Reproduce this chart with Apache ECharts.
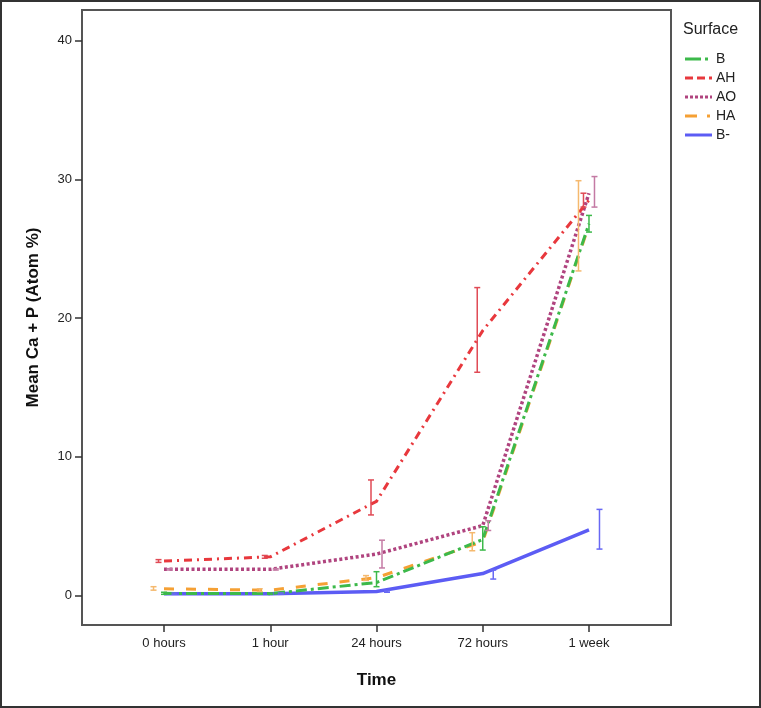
<!DOCTYPE html>
<html><head><meta charset="utf-8">
<script src="https://cdn.jsdelivr.net/npm/echarts@6/dist/echarts.min.js"></script>
<style>html,body{margin:0;padding:0;background:#fff}#c{width:761px;height:708px}</style>
</head><body><div id="c"></div>
<script>
const categories = ['0 hours', '1 hour', '24 hours', '72 hours', '1 week'];
const yTicks = [0, 10, 20, 30, 40];
const seriesNames = ['B', 'AH', 'AO', 'HA', 'B-'];
const valB  = [0.17, 0.15, 0.95, 4.05, 26.8];
const valAH = [2.5, 2.8, 6.8, 19.1, 28.5];
const valAO = [1.9, 1.9, 3.0, 5.05, 29.0];
const valHA = [0.5, 0.4, 1.3, 3.9, 26.7];
const valBm = [0.15, 0.15, 0.3, 1.6, 4.75];
// error bar [low, high]
const errB  = [[0.1, 0.25], [0.1, 0.2], [0.65, 1.73], [3.29, 4.97], [26.2, 27.4]];
const errAH = [[2.4, 2.6], [2.7, 2.9], [5.82, 8.34], [16.1, 22.2], [28.0, 29.0]];
const errAO = [[1.85, 1.95], [1.85, 1.95], [2.0, 4.0], [4.7, 5.4], [28.0, 30.2]];
const errHA = [[0.4, 0.65], [0.3, 0.5], [1.1, 1.45], [3.24, 4.54], [23.4, 29.9]];
const errBm = [[0.1, 0.2], [0.1, 0.2], [0.25, 0.35], [1.2, 1.85], [3.36, 6.22]];

const vals = [valB, valAH, valAO, valHA, valBm];
const errs = [errB, errAH, errAO, errHA, errBm];
const colors = ['#3cb94a', '#e8383d', '#b0447f', '#f5a034', '#5c5cf4'];
const barColors = ['#3cb94a', '#e04a55', '#c47aa4', '#f5b96e', '#6868f4'];
const dashes = [[11, 4, 3, 4], [8, 5, 2, 5], [3, 2.5], [10, 12], 'solid'];
const legendDashes = [[16, 4, 3, 4], [8, 4], [3, 2], [12, 10, 3, 10], 'solid'];
const widths = [3, 3, 3.5, 3, 3.5];
const offsets = [0, -5.5, 5.5, -10.5, 10.5];

const series = [];
seriesNames.forEach((n, i) => {
  series.push({
    name: n, type: 'line', symbol: 'none', z: 3 + (4 - i),
    data: vals[i].map((v, k) => [k, v]),
    lineStyle: { color: colors[i], width: widths[i], type: dashes[i], cap: 'butt' },
    itemStyle: { color: colors[i] },
    animation: false
  });
});
seriesNames.forEach((n, i) => {
  series.push({
    type: 'custom', name: n + ' err', z: 10, silent: true,
    data: errs[i].map((e, k) => [k, e[0], e[1]]),
    renderItem: function (params, api) {
      const lo = api.coord([api.value(0), api.value(1)]);
      const hi = api.coord([api.value(0), api.value(2)]);
      const x = lo[0] + offsets[i];
      const cw = 3;
      const st = { stroke: barColors[i], lineWidth: 1.5 };
      return { type: 'group', children: [
        { type: 'line', shape: { x1: x, y1: lo[1], x2: x, y2: hi[1] }, style: st },
        { type: 'line', shape: { x1: x - cw, y1: lo[1], x2: x + cw, y2: lo[1] }, style: st },
        { type: 'line', shape: { x1: x - cw, y1: hi[1], x2: x + cw, y2: hi[1] }, style: st }
      ]};
    },
    animation: false
  });
});

const legendGraphics = [];
seriesNames.forEach((n, i) => {
  const y = 59 + i * 19;
  legendGraphics.push({ type: 'line', shape: { x1: 685, y1: y, x2: 712, y2: y }, style: { stroke: colors[i], lineWidth: 3, lineDash: legendDashes[i] === 'solid' ? null : legendDashes[i] }, silent: true });
  legendGraphics.push({ type: 'text', x: 716, y: y, style: { text: n, fontSize: 14, fill: '#222', fontFamily: 'Liberation Sans, Arial, sans-serif', textVerticalAlign: 'middle' }, silent: true });
});
legendGraphics.push({ type: 'text', x: 683, y: 30, style: { text: 'Surface', fontSize: 16, fill: '#222', fontFamily: 'Liberation Sans, Arial, sans-serif', textVerticalAlign: 'middle' }, silent: true });

const chart = echarts.init(document.getElementById('c'), null, { renderer: 'canvas' });
chart.setOption({
  animation: false,
  textStyle: { fontFamily: 'Liberation Sans, Arial, sans-serif' },
  grid: { left: 82, top: 10, width: 589, height: 615, show: true, borderColor: '#555', borderWidth: 2, backgroundColor: '#fff' },
  xAxis: {
    type: 'value', min: -0.772, max: 4.772,
    name: 'Time', nameLocation: 'middle', nameGap: 47,
    nameTextStyle: { fontSize: 17, fontWeight: 'bold', color: '#111' },
    axisLine: { show: true, onZero: false, lineStyle: { color: '#555', width: 2 } },
    axisTick: { show: true, length: 7, customValues: [0, 1, 2, 3, 4], lineStyle: { color: '#333', width: 1.5 } },
    axisLabel: { customValues: [0, 1, 2, 3, 4], fontSize: 13, color: '#222', margin: 12, formatter: v => categories[Math.round(v)] },
    splitLine: { show: false }
  },
  yAxis: {
    type: 'value', min: -2.11, max: 42.2,
    name: 'Mean Ca + P (Atom %)', nameLocation: 'middle', nameGap: 40, nameRotate: 90,
    nameTextStyle: { fontSize: 17, fontWeight: 'bold', color: '#111' },
    axisLine: { show: true, onZero: false, lineStyle: { color: '#555', width: 2 } },
    axisTick: { show: true, length: 7, customValues: yTicks, lineStyle: { color: '#333', width: 1.5 } },
    axisLabel: { customValues: yTicks, fontSize: 13, color: '#222', margin: 10 },
    splitLine: { show: false }
  },
  graphic: [{ type: 'rect', shape: { x: 1, y: 1, width: 759, height: 706 }, style: { fill: 'none', stroke: '#333', lineWidth: 2 }, silent: true }].concat(legendGraphics),
  series: series
});
</script></body></html>
